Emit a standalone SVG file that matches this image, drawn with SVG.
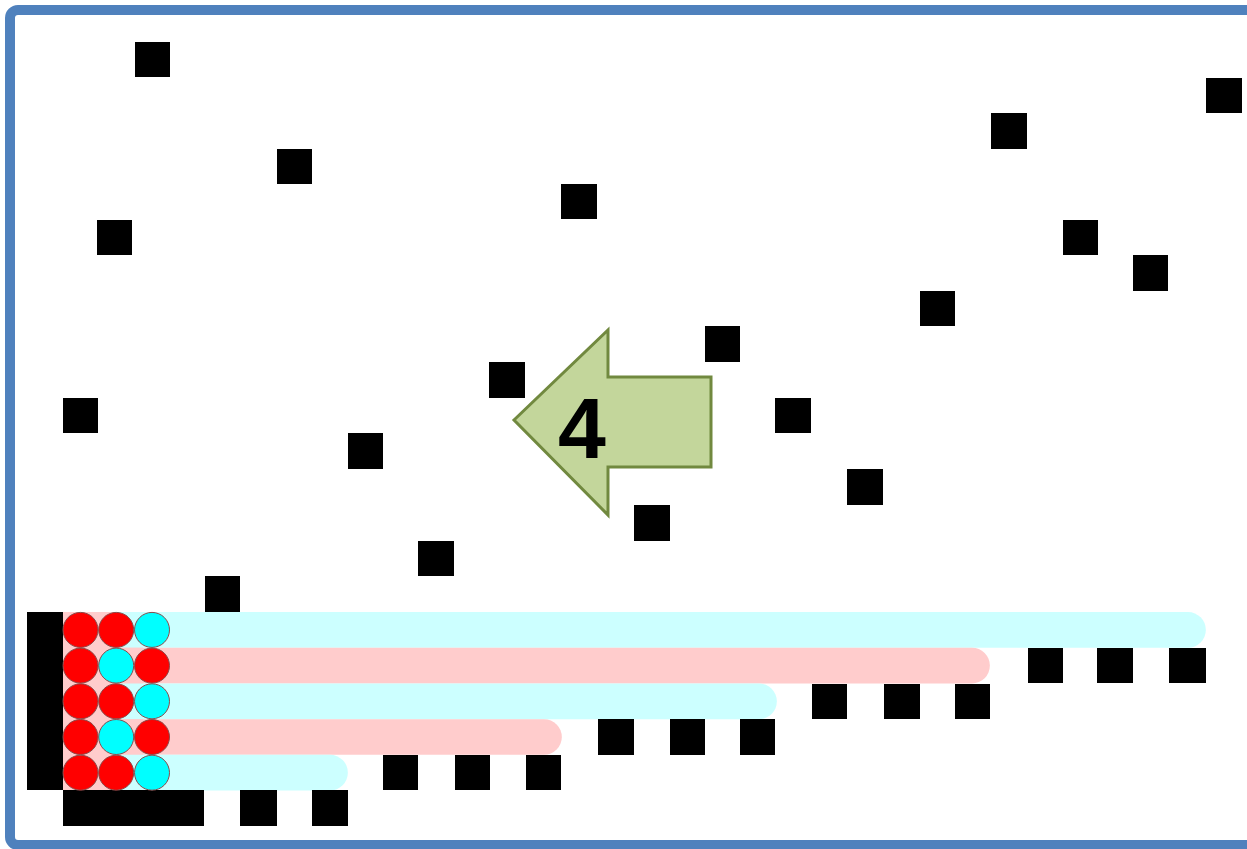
<svg xmlns="http://www.w3.org/2000/svg" width="1247" height="849" viewBox="0 0 1247 849">
<style>
.sq{fill:#000}
.band{fill:none;stroke-width:35.7;stroke-linecap:round}
.c{stroke:#8a4a4a;stroke-width:1}
.r{fill:#FF0000}
.b{fill:#00FFFF}
</style>
<rect x="0" y="0" width="1247" height="849" fill="#fff"/>
<rect x="10" y="10" width="1260" height="835" rx="8" fill="#fff" stroke="#4F81BD" stroke-width="10"/>
<g id="bands">
<rect x="63" y="612" width="80" height="178" fill="#FFCCCC"/>
<line class="band" x1="120" y1="629.9" x2="1188" y2="629.9" stroke="#CCFFFF"/>
<line class="band" x1="120" y1="665.6" x2="972" y2="665.6" stroke="#FFCCCC"/>
<line class="band" x1="120" y1="701.3" x2="759" y2="701.3" stroke="#CCFFFF"/>
<line class="band" x1="120" y1="737" x2="544" y2="737" stroke="#FFCCCC"/>
<line class="band" x1="120" y1="772.7" x2="330" y2="772.7" stroke="#CCFFFF"/>
</g>
<g id="walls">
<rect class="sq" x="27" y="612" width="36" height="178"/>
<rect class="sq" x="63" y="790" width="141" height="36"/>
</g>
<g id="circles">
<circle class="c r" cx="80.5" cy="629.9" r="17.5"/>
<circle class="c r" cx="116.2" cy="629.9" r="17.5"/>
<circle class="c b" cx="152" cy="629.9" r="17.5"/>
<circle class="c r" cx="80.5" cy="665.6" r="17.5"/>
<circle class="c b" cx="116.2" cy="665.6" r="17.5"/>
<circle class="c r" cx="152" cy="665.6" r="17.5"/>
<circle class="c r" cx="80.5" cy="701.3" r="17.5"/>
<circle class="c r" cx="116.2" cy="701.3" r="17.5"/>
<circle class="c b" cx="152" cy="701.3" r="17.5"/>
<circle class="c r" cx="80.5" cy="737" r="17.5"/>
<circle class="c b" cx="116.2" cy="737" r="17.5"/>
<circle class="c r" cx="152" cy="737" r="17.5"/>
<circle class="c r" cx="80.5" cy="772.7" r="17.5"/>
<circle class="c r" cx="116.2" cy="772.7" r="17.5"/>
<circle class="c b" cx="152" cy="772.7" r="17.5"/>
</g>
<g id="squares">
<rect class="sq" x="135" y="42" width="35" height="35"/>
<rect class="sq" x="277" y="149" width="35" height="35"/>
<rect class="sq" x="97" y="220" width="35" height="35"/>
<rect class="sq" x="561" y="184" width="36" height="35"/>
<rect class="sq" x="991" y="113" width="36" height="36"/>
<rect class="sq" x="1206" y="78" width="36" height="35"/>
<rect class="sq" x="1063" y="220" width="35" height="35"/>
<rect class="sq" x="1133" y="255" width="35" height="36"/>
<rect class="sq" x="920" y="291" width="35" height="35"/>
<rect class="sq" x="705" y="326" width="35" height="36"/>
<rect class="sq" x="489" y="362" width="36" height="36"/>
<rect class="sq" x="63" y="398" width="35" height="35"/>
<rect class="sq" x="775" y="398" width="36" height="35"/>
<rect class="sq" x="348" y="433" width="35" height="36"/>
<rect class="sq" x="847" y="469" width="36" height="36"/>
<rect class="sq" x="634" y="505" width="36" height="36"/>
<rect class="sq" x="418" y="541" width="36" height="35"/>
<rect class="sq" x="205" y="576" width="35" height="36"/>
<rect class="sq" x="240" y="790" width="37" height="36"/>
<rect class="sq" x="312" y="790" width="36" height="36"/>
<rect class="sq" x="383" y="755" width="35" height="35"/>
<rect class="sq" x="455" y="755" width="35" height="35"/>
<rect class="sq" x="526" y="755" width="35" height="35"/>
<rect class="sq" x="598" y="719" width="36" height="36"/>
<rect class="sq" x="670" y="719" width="35" height="36"/>
<rect class="sq" x="740" y="719" width="35" height="36"/>
<rect class="sq" x="812" y="684" width="35" height="35"/>
<rect class="sq" x="884" y="684" width="36" height="35"/>
<rect class="sq" x="955" y="684" width="35" height="35"/>
<rect class="sq" x="1028" y="648" width="35" height="35"/>
<rect class="sq" x="1097" y="648" width="36" height="35"/>
<rect class="sq" x="1169" y="648" width="37" height="35"/>
</g>
<g id="arrow">
<path d="M514,420 L608,330 L608,377 L711,377 L711,467 L608,467 L608,515 Z" fill="#C3D69B" stroke="#71893F" stroke-width="3" stroke-linejoin="miter"/>
<text x="582" y="458" font-family="Liberation Sans, Arial, sans-serif" font-weight="bold" font-size="86" text-anchor="middle" fill="#000">4</text>
</g>
</svg>
